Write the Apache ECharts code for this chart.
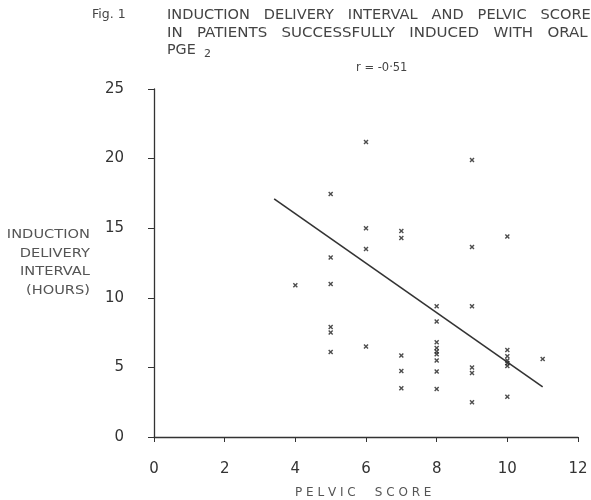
<!DOCTYPE html>
<html>
<head>
<meta charset="utf-8">
<script src="https://cdn.jsdelivr.net/npm/echarts@6/dist/echarts.min.js"></script>
<style>
html,body{margin:0;padding:0;background:#fff;}
#chart{width:591px;height:500px;}
</style>
</head>
<body>
<div id="chart"></div>
<script>
// Pelvic score (x) and induction-delivery interval in hours (y)
const pelvicScore = [4,
  5,5,5,5,5,5,
  6,6,6,6,
  7,7,7,7,7,
  8,8,8,8,8,8,8,8,8,
  9,9,9,9,9,9,
  10,10,10,10,10,10,10,
  11];
const intervalHours = [10.9,
  17.45,12.9,11.0,7.9,7.5,6.1,
  21.2,15.0,13.5,6.5,
  14.8,14.3,5.85,4.75,3.5,
  9.4,8.3,6.8,6.4,6.15,5.95,5.5,4.7,3.45,
  19.9,13.65,9.4,5.0,4.6,2.5,
  14.4,6.25,5.8,5.5,5.3,5.1,2.9,
  5.6];
// Regression line end points
const fitX = [3.4, 11.0];
const fitY = [17.1, 3.6];
const xTicks = [0, 2, 4, 6, 8, 10, 12];
const yTicks = [0, 5, 10, 15, 20, 25];
const titleLines = ['INDUCTION   DELIVERY   INTERVAL   AND   PELVIC   SCORE',
                    'IN   PATIENTS   SUCCESSFULLY   INDUCED   WITH   ORAL'];
const yNameLines = ['INDUCTION', 'DELIVERY', 'INTERVAL', '(HOURS)'];

const points = pelvicScore.map((x, i) => [x, intervalHours[i]]);
const fitLine = fitX.map((x, i) => [x, fitY[i]]);

const font = 'DejaVu Sans';
const txt = (s, x, y, size, extra, fill) => Object.assign({
  type: 'text', x: x, y: y, silent: true,
  style: { text: s, fontSize: size, fill: fill || '#444', fontFamily: font, verticalAlign: 'middle', align: 'left' }
}, extra || {});

const graphics = [
  txt('Fig. 1', 92, 15, 12.5),
  txt(titleLines[0], 167, 15, 14.3, { scaleX: 1.02 }),
  txt(titleLines[1], 167, 33, 14.3, { scaleX: 1.05 }),
  txt('PGE', 167, 50, 14.3),
  txt('2', 204, 54, 11),
  txt('r = -0·51', 356, 68, 11.5),
  txt('P E L V I C     S C O R E', 295, 493, 12, null, '#555')
];
const yNameY = [235, 253.5, 272, 290.5];
yNameLines.forEach((s, i) => {
  graphics.push({
    type: 'text', x: 90, y: yNameY[i], scaleX: 1.17, silent: true,
    style: { text: s, fontSize: 12.5, fill: '#555', fontFamily: font, verticalAlign: 'middle', align: 'right' }
  });
});

const chart = echarts.init(document.getElementById('chart'));
chart.setOption({
  backgroundColor: '#fff',
  animation: false,
  textStyle: { fontFamily: font },
  grid: { left: 154, right: 13, top: 89, bottom: 63 },
  xAxis: {
    type: 'value', min: xTicks[0], max: xTicks[xTicks.length - 1], interval: 2,
    axisLine: { lineStyle: { color: '#333', width: 1.3 } },
    axisTick: { show: true, length: 5, lineStyle: { color: '#333' } },
    axisLabel: { margin: 25, fontSize: 15, color: '#333', fontFamily: font },
    splitLine: { show: false }
  },
  yAxis: {
    type: 'value', min: yTicks[0], max: yTicks[yTicks.length - 1], interval: 5,
    axisLine: { show: true, lineStyle: { color: '#333', width: 1.3 } },
    axisTick: { show: true, length: 6, lineStyle: { color: '#333' } },
    axisLabel: { margin: 30, fontSize: 15, color: '#333', fontFamily: font },
    splitLine: { show: false }
  },
  graphic: graphics,
  series: [
    {
      type: 'scatter', data: points,
      symbol: 'path://M0,2L2,0L5,3L8,0L10,2L7,5L10,8L8,10L5,7L2,10L0,8L3,5Z',
      symbolSize: 5,
      itemStyle: { color: '#222' }
    },
    {
      type: 'line', data: fitLine, symbol: 'none',
      lineStyle: { color: '#333', width: 1.6 }
    }
  ]
});
</script>
</body>
</html>
